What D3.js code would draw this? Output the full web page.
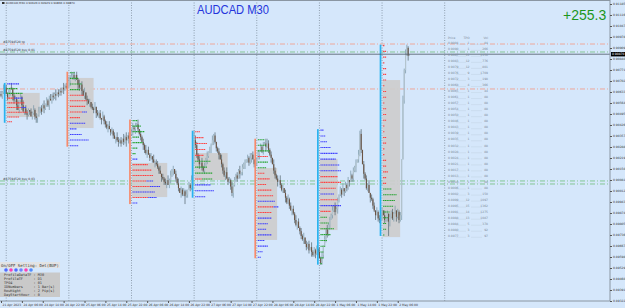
<!DOCTYPE html>
<html>
<head>
<meta charset="utf-8">
<script src="https://cdn.jsdelivr.net/npm/d3@7"></script>
<style>
body { margin: 0; background: #d5e7fb; }
svg { display: block; font-family: "DejaVu Sans", sans-serif; }
</style>
</head>
<body>
<div id="chart"></div>
<script>
// M30 closes, in pips (price * 10000), 21 Apr 22:00 .. 2 May 10:30
const closes = [
  9061, 9063, 9065, 9066, 9062, 9060, 9063, 9066, 9065, 9061,
  9058, 9059, 9055, 9052, 9058, 9060, 9055, 9051, 9053, 9050,
  9049, 9052, 9051, 9048, 9050, 9052, 9048, 9047, 9049, 9051,
  9053, 9051, 9055, 9053, 9056, 9058, 9055, 9059, 9058, 9061,
  9060, 9062, 9061, 9063, 9062, 9064, 9063, 9066, 9065, 9067,
  9066, 9067, 9070, 9072, 9073, 9074, 9072, 9074, 9071, 9068,
  9066, 9068, 9064, 9061, 9063, 9059, 9058, 9056, 9057, 9054,
  9053, 9052, 9054, 9050, 9049, 9050, 9047, 9046, 9048, 9045,
  9043, 9041, 9042, 9040, 9038, 9039, 9036, 9034, 9035, 9033,
  9032, 9033, 9031, 9034, 9032, 9035, 9033, 9036, 9034, 9037,
  9038, 9041, 9040, 9042, 9043, 9040, 9037, 9035, 9032, 9030,
  9027, 9025, 9027, 9024, 9022, 9023, 9021, 9019, 9019, 9018,
  9016, 9014, 9012, 9010, 9009, 9007, 9006, 9008, 9005, 9008,
  9011, 9014, 9015, 9012, 9009, 9006, 9003, 9000, 9002, 8999,
  9001, 8998, 8999, 9002, 9005, 9003, 9008, 9018,
  9033, 9030, 9024, 9021, 9018, 9019, 9016, 9014, 9017, 9021,
  9023, 9026, 9027, 9030, 9033, 9036, 9032, 9028, 9026, 9024,
  9021, 9018, 9014, 9011, 9013, 9009, 9007, 9008, 9004, 9000,
  9005, 9008, 9011, 9009, 9014, 9012, 9013, 9016, 9018, 9019,
  9021, 9022, 9019, 9022, 9024, 9021, 9018, 9019,
  9021, 9024, 9027, 9029, 9026, 9030, 9031, 9029, 9031, 9027,
  9024, 9022, 9018, 9014, 9011, 9009, 9007, 9008, 9005, 9002,
  9003, 9000, 8997, 8994, 8996, 8992, 8989, 8990, 8987, 8983,
  8980, 8982, 8978, 8976, 8973, 8971, 8972, 8968, 8966, 8968,
  8964, 8966, 8963, 8961, 8964, 8962, 8965, 8963,
  8959, 8956, 8961, 8967, 8971, 8977, 8974, 8980, 8983, 8986,
  8989, 8992, 8988, 8990, 8995, 8999, 9002, 8999, 9003, 9001,
  9005, 9003, 9008, 9007, 9011, 9009, 9014, 9016, 9019, 9021,
  9024, 9037, 9027, 9018, 9012, 9009, 9003, 9005, 9000, 8997,
  8996, 8992, 8989, 8986, 8988, 8984, 8983, 8986,
  8989, 8986, 8983, 8984, 8987, 8982, 8985, 8988, 8984, 8987,
  8989, 8985, 8988, 8983, 8986,
  9021, 9058, 9077, 9087, 9091, 9086, 9087
];
// wick lengths in pips above / below each body
const hiWick = `2131212031 1213021312 2102131203 1213021231 2130212031 2132312021 3121302120 2130212031
1213021203 2120313021 2312130212 1302120312 2130212031 3120213021 2130213063 2120312130
2131201213 1203121302 1213021202 1312021302 1213321203 2120312021 3120213021 2130212031
2120312021 3121302120 2130212031 2120323021 2130212031 2120312021 2130212031 3210`;
const loWick = `1213021203 2130213021 3120212331 1203121302 2130212031 1213021203 2130213021 1203121302
2130212031 3120214031 1213021203 2130212031 1203121302 2130212031 1512021302 2130212031
1203121302 2130212231 1203121302 2130212031 1203121302 2130212031 1203121302 2130212031
1312011202 2130212031 1203121302 2130212031 1203121302 2130212931 1203121302 2130`;

const timeLabels = ["21 Apr 2023", "24 Apr 06:00", "24 Apr 14:00", "24 Apr 22:00", "25 Apr 06:00",
  "25 Apr 14:00", "25 Apr 22:00", "26 Apr 06:00", "26 Apr 14:00", "26 Apr 22:00", "27 Apr 06:00",
  "27 Apr 14:00", "27 Apr 22:00", "28 Apr 06:00", "28 Apr 14:00", "28 Apr 22:00", "1 May 06:00",
  "1 May 14:00", "1 May 22:00", "2 May 06:00"];
const priceTicks = ["0.91185", "0.91116", "0.91047", "0.90978", "0.90909", "0.90840", "0.90771",
  "0.90702", "0.90633", "0.90564", "0.90495", "0.90426", "0.90357", "0.90288", "0.90219", "0.90150",
  "0.90081", "0.90012", "0.89943", "0.89874", "0.89805", "0.89736", "0.89667", "0.89598", "0.89529",
  "0.89460", "0.89391", "0.89322"];

// bar index where each trading day starts (24 Apr .. 3 May)
const dayStarts = [4, 52, 100, 148, 196, 244, 292, 340];
// value area per day (prices) and widest row in TPO letters
const vaHigh = [0.90627, 0.90721, 0.90188, 0.90250, 0.90156, 0.90213, 0.90708];
const vaLow = [0.90476, 0.90407, 0.89974, 0.90081, 0.89705, 0.89767, 0.89723];
const vaWidth = [15, 11, 16, 15, 9, 8, 8];
// TPO rows top to bottom: colour letter + letter count
const profRows = [
  "b7 g6 g9 r4b5 r10 r8b3 r12 r7 r3",
  "g3 g5 g7 g6 r8 r10 r9 r7b3 r6 b9 b4 b7 b11 b5",
  "g3 g5 g7 g4 g6 g3 g2 b3 r9 r11 r12 r8b4 r10b6 b13 r9b5 b3",
  "r3 r5 r7 r6 r5 g9 g7 g10 r4g6 b9 b11 b6",
  "g4 g5 g7 r6 g6 g5 r4 r7 r5 r8 r9 b10 r9b3 r8 b8 b6 b5 b8 b4 b6 b3 b2",
  "b2 b3 b4 b6 b10 b9 b11 b12 r10 r12 r9 b8 r10 b12 r6 g4 g5 g8 g6 g4 g3 g2 g2 g1",
  "r1 r2 r2 r1 r2 r2 r2 r1 r2 r2 r1 r2 r2 r2 r1 r1 r2 r2 r1 r1 r2 r2 r3 r2 r2 g5 g8 g7 g6 g4 g3 g2 g2 g1"
];

// order lines
const levels = [
  { price: 0.90934, kind: "tp", label: "#87594520 tp" },
  { price: 0.90884, kind: "buy", label: "#87594520 buy 0.01" },
  { price: 0.90652, kind: "tp", label: "" },
  { price: 0.90075, kind: "buy", label: "#87594520 buy 0.03" },
  { price: 0.90056, kind: "buy", label: "" }
];
const lastPrice = "0.90870";

// profile table of the current day
const tblPrice = ["0.9094", "0.9090", "0.9087", "0.9083", "0.9079", "0.9076", "0.9072", "0.9068",
  "0.9065", "0.9061", "0.9057", "0.9054", "0.9050", "0.9046", "0.9043", "0.9039", "0.9035", "0.9032",
  "0.9028", "0.9024", "0.9021", "0.9017", "0.9013", "0.9010", "0.9006", "0.9002", "0.8999", "0.8995",
  "0.8991", "0.8988", "0.8984", "0.8980", "0.8977"];
const tblCount = [1, 1, 11, 12, 12, 9, 3, 4, 1, 1, 1, 1, 1, 1, 1, 1, 1, 1, 1, 1, 1, 1, 1, 1, 1,
  3, 12, 15, 14, 13, 5, 3, 3];
const tblVol = [84, 266, 1156, 776, 801, 1709, 198, 366, 44, 88, 88, 88, 88, 88, 88, 88, 88, 88,
  88, 88, 88, 88, 88, 88, 88, 150, 1097, 1362, 1275, 1087, 378, 92, 97];

const settings = ["ProfileDataTF : M30", "ProfileTF     : D1", "TPO4          : 01",
  "IDNumbers     : 1 Bar(s)", "RowHight      : 2 Pip(s)", "DayStartHour  : 0"];
const buttonColors = ["#4f6bff", "#ff3fb0", "#4f6bff", "#6f86ff", "#ff3fb0", "#4f8bff"];

// ---- layout
const W = 625, H = 308;
const plotR = 610, plotB = 301;
const letterW = 1.75;
const hiW = hiWick.replace(/\s/g, "");
const loW = loWick.replace(/\s/g, "");

const bars = closes.map((c, i) => {
  const o = i ? closes[i - 1] : c + 1;
  return {
    i,
    o: o / 1e4,
    c: c / 1e4,
    h: (Math.max(o, c) + +hiW[i]) / 1e4,
    l: (Math.min(o, c) - +loW[i]) / 1e4
  };
});

const svg = d3.select("#chart").append("svg")
  .attr("width", W).attr("height", H);

svg.append("rect").attr("width", W).attr("height", H).attr("fill", "#d5e7fb");

const x = d3.scaleLinear().domain([0, closes.length - 1]).range([1, 1 + (closes.length - 1) * 1.305]);
const y = d3.scaleLinear()
  .domain([+priceTicks[priceTicks.length - 1], +priceTicks[0]])
  .range([plotB, 4]);

// day separators
svg.append("g").selectAll("line").data(dayStarts).join("line")
  .attr("x1", d => x(d)).attr("x2", d => x(d))
  .attr("y1", 0).attr("y2", plotB)
  .attr("stroke", "#7d8d9c").attr("stroke-width", 0.8)
  .attr("stroke-dasharray", "1,1.5");

// order levels
svg.append("g").selectAll("line").data(levels).join("line")
  .attr("x1", 0).attr("x2", plotR)
  .attr("y1", d => y(d.price)).attr("y2", d => y(d.price))
  .attr("stroke", d => d.kind === "tp" ? "#f0a090" : "#7cc48a")
  .attr("stroke-width", 0.9)
  .attr("stroke-dasharray", "5,2,1,2");

// day profiles
const days = dayStarts.slice(0, -1).map((s, k) => {
  const seg = bars.slice(s, dayStarts[k + 1]);
  return {
    k, s,
    hi: d3.max(seg, d => d.h),
    lo: d3.min(seg, d => d.l),
    up: seg[seg.length - 1].c >= seg[0].o
  };
});

svg.append("g").selectAll("rect").data(days).join("rect")
  .attr("x", d => x(d.s) + 0.5)
  .attr("width", d => vaWidth[d.k] * 2.2)
  .attr("y", d => y(vaHigh[d.k]))
  .attr("height", d => y(vaLow[d.k]) - y(vaHigh[d.k]))
  .attr("fill", "#cdcdcd").attr("opacity", 0.92);

// candles
const cg = svg.append("g");
cg.selectAll("line").data(bars).join("line")
  .attr("x1", d => x(d.i)).attr("x2", d => x(d.i))
  .attr("y1", d => y(d.h)).attr("y2", d => y(d.l))
  .attr("stroke", d => d.c >= d.o ? "#7f9cab" : "#61727b")
  .attr("stroke-width", 0.8);
cg.selectAll("rect").data(bars).join("rect")
  .attr("x", d => x(d.i) - 0.55).attr("width", 1.1)
  .attr("y", d => y(Math.max(d.o, d.c)))
  .attr("height", d => Math.max(0.6, Math.abs(y(d.o) - y(d.c))))
  .attr("fill", d => d.c >= d.o ? "#b3c4cd" : "#6b5444");

// profile bars and TPO rows
const tpoColor = { r: "#ff4040", b: "#3b3bff", g: "#22a22c" };
const pg = svg.append("g");
pg.selectAll("rect.day").data(days).join("rect")
  .attr("class", "day")
  .attr("x", d => x(d.s) - 2.4).attr("width", 1.7)
  .attr("y", d => y(d.hi))
  .attr("height", d => y(d.lo) - y(d.hi))
  .attr("fill", d => d.up ? "#27b3f0" : "#f78a6c");

days.forEach(d => {
  const rows = profRows[d.k].split(" ");
  const y0 = y(d.hi) + 1, y1 = y(d.lo) - 1;
  const step = (y1 - y0) / (rows.length - 1);
  rows.forEach((tok, j) => {
    let off = 0;
    tok.match(/[rgb]\d+/g).forEach(part => {
      const n = +part.slice(1);
      const ry = y0 + j * step;
      pg.append("line")
        .attr("x1", x(d.s) + 1 + off).attr("x2", x(d.s) + 1 + off + n * letterW)
        .attr("y1", ry).attr("y2", ry)
        .attr("stroke", tpoColor[part[0]]).attr("stroke-width", 1.1)
        .attr("stroke-dasharray", "1.3,0.45");
      off += n * letterW;
    });
  });
});

// current price line
svg.append("line")
  .attr("x1", 0).attr("x2", plotR)
  .attr("y1", y(+lastPrice)).attr("y2", y(+lastPrice))
  .attr("stroke", "#4d5a66").attr("stroke-width", 0.8);

// level labels
svg.append("g").selectAll("text").data(levels.filter(d => d.label)).join("text")
  .attr("x", 3).attr("y", d => y(d.price) - 1)
  .attr("font-size", 3).attr("fill", "#333")
  .text(d => d.label);

// profile table
const tg = svg.append("g").attr("font-size", 3).attr("fill", "#7b8a99");
tg.append("text").attr("x", 448).attr("y", 39).text("Price");
tg.append("text").attr("x", 469.5).attr("y", 39).attr("text-anchor", "end").text("TPO");
tg.append("text").attr("x", 488).attr("y", 39).attr("text-anchor", "end").text("Vol");
tblPrice.forEach((p, j) => {
  const ry = 44 + j * 6.03;
  tg.append("text").attr("x", 448).attr("y", ry).text(p);
  tg.append("text").attr("x", 469.5).attr("y", ry).attr("text-anchor", "end").text(tblCount[j]);
  tg.append("text").attr("x", 488).attr("y", ry).attr("text-anchor", "end").text(tblVol[j]);
  tg.append("line").attr("x1", 456).attr("x2", 466).attr("y1", ry + 0.3).attr("y2", ry + 0.3)
    .attr("stroke", "#b4c4d4").attr("stroke-width", 0.3);
  tg.append("line").attr("x1", 471).attr("x2", 482).attr("y1", ry + 0.3).attr("y2", ry + 0.3)
    .attr("stroke", "#b4c4d4").attr("stroke-width", 0.3);
});

// frame
svg.append("line").attr("x1", 0).attr("x2", plotR).attr("y1", 0.5).attr("y2", 0.5)
  .attr("stroke", "#8a96a2").attr("stroke-width", 1);
svg.append("line").attr("x1", plotR).attr("x2", plotR).attr("y1", 0).attr("y2", plotB)
  .attr("stroke", "#8a96a2").attr("stroke-width", 1);
svg.append("line").attr("x1", 0).attr("x2", plotR).attr("y1", plotB).attr("y2", plotB)
  .attr("stroke", "#8a96a2").attr("stroke-width", 1);

// price axis
const ya = svg.append("g").attr("transform", `translate(${plotR},0)`)
  .call(d3.axisRight(y).tickValues(priceTicks.map(Number))
    .tickFormat((d, i) => priceTicks[i]).tickSize(2).tickPadding(1));
ya.select(".domain").remove();
ya.attr("font-size", 3).attr("font-family", "DejaVu Sans");
ya.selectAll("line").attr("stroke", "#555");
ya.selectAll("text").attr("fill", "#333");

// time axis
const xa = svg.append("g").attr("transform", `translate(0,${plotB})`)
  .call(d3.axisBottom(x).tickValues(timeLabels.map((t, i) => i * 16))
    .tickFormat((d, i) => timeLabels[i]).tickSize(2).tickPadding(1));
xa.select(".domain").remove();
xa.attr("font-size", 3).attr("font-family", "DejaVu Sans");
xa.selectAll("line").attr("stroke", "#555");
xa.selectAll("text").attr("fill", "#333").attr("text-anchor", "start").attr("dx", 1);

// last price tag
svg.append("rect").attr("x", plotR + 1).attr("y", y(+lastPrice) - 2.2)
  .attr("width", 14).attr("height", 4.4).attr("fill", "#000");
svg.append("text").attr("x", plotR + 2).attr("y", y(+lastPrice) + 1)
  .attr("font-size", 3).attr("fill", "#fff").text(lastPrice);

// header and titles
svg.append("rect").attr("x", 2).attr("y", 2).attr("width", 2.5).attr("height", 2).attr("fill", "#333");
svg.append("text").attr("x", 6).attr("y", 4.2).attr("font-size", 2.8).attr("fill", "#333")
  .text("AUDCAD,M30  0.90926 0.90929 0.90836 0.90870");

svg.append("text").attr("x", 197).attr("y", 14)
  .attr("font-family", "Liberation Sans, Arial, sans-serif")
  .attr("font-size", 13.5).attr("fill", "#2435dc")
  .attr("textLength", 72).attr("lengthAdjust", "spacingAndGlyphs")
  .text("AUDCAD M30");
svg.append("text").attr("x", 563).attr("y", 20)
  .attr("font-family", "Liberation Sans, Arial, sans-serif")
  .attr("font-size", 14).attr("fill", "#1c961c")
  .text("+255.3");

// settings panel
const sp = svg.append("g").attr("font-family", "DejaVu Sans Mono, monospace");
sp.append("rect").attr("x", 0).attr("y", 262).attr("width", 60).attr("height", 6).attr("fill", "#e3e3e3");
sp.append("text").attr("x", 1).attr("y", 266.6).attr("font-size", 4).attr("fill", "#333")
  .text("On/OFF Setting: Del(BUP)");
sp.selectAll("circle").data(buttonColors).join("circle")
  .attr("cx", (d, i) => 6 + i * 5).attr("cy", 270).attr("r", 1.8).attr("fill", d => d);
sp.append("rect").attr("x", 0).attr("y", 272.5).attr("width", 60).attr("height", 24.5).attr("fill", "#c9c9c9");
sp.selectAll("text.set").data(settings).join("text")
  .attr("class", "set")
  .attr("x", 4).attr("y", (d, i) => 276 + i * 4)
  .attr("font-size", 3.5).attr("fill", "#333")
  .attr("xml:space", "preserve").style("white-space", "pre")
  .text(d => d);
</script>
</body>
</html>
